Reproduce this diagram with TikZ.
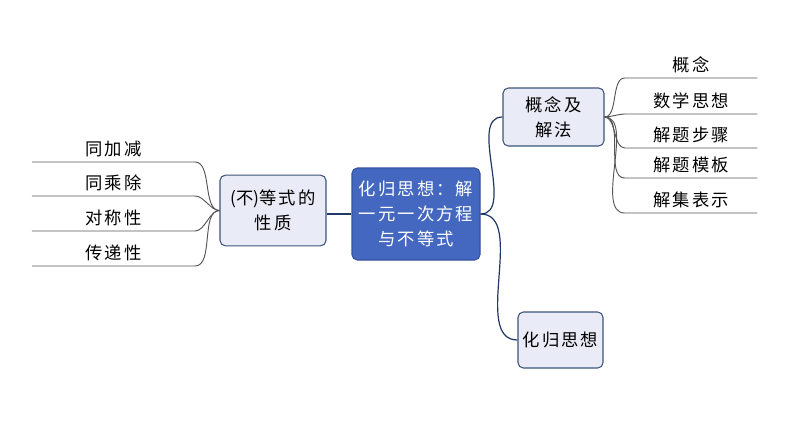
\documentclass[tikz,border=0pt]{standalone}
\usepackage{fontspec}
\usepackage{tikz}
\newfontfamily\cjk[LetterSpace=12]{Noto Sans CJK SC}
\newfontfamily\cjktight{Noto Sans CJK SC}
\definecolor{hubblue}{RGB}{68,104,192}
\definecolor{hubline}{RGB}{52,82,160}
\definecolor{boxfill}{RGB}{233,236,246}
\definecolor{boxline}{RGB}{62,84,122}
\definecolor{linkblue}{RGB}{31,56,100}
\definecolor{twig}{RGB}{85,85,85}

\tikzset{
  txt/.style={font=\cjk\fontsize{13}{19}\selectfont},
  box/.style={txt, draw=boxline, fill=boxfill, rounded corners=4pt, align=center, line width=0.8pt},
  hub/.style={box, draw=hubline, fill=hubblue, text=white},
  leaf/.style={txt, anchor=south, inner xsep=0pt, inner ysep=3.5pt},
  link/.style={draw=linkblue, line width=0.9pt},
  branch/.style={draw=twig, line width=0.7pt}
}

\begin{document}
\begin{tikzpicture}[x=0.75pt,y=-0.75pt]
    \useasboundingbox (0,0) rectangle (794,447);

    \node [hub, minimum width=96pt, minimum height=69pt] (main) at (416,214)
        {化归思想：解\\一元一次方程\\与不等式};
    \node [box, minimum width=79.5pt, minimum height=53pt] (prop) at (273,210.5)
        {{\cjktight(不)}等式的\\性质};
    \node [box, minimum width=75.75pt, minimum height=43.5pt] (concept) at (553.5,117)
        {概念及\\解法};
    \node [box, minimum width=63.75pt, minimum height=42pt] (idea) at (560.5,340)
        {化归思想};

    \draw [link] (main.west) -- (main.west -| prop.east);
    \draw [link] (main.east) to [out=0, in=180, looseness=0.9] (concept.west);
    \draw [link] (main.east) to [out=0, in=180, looseness=0.9] (idea.west);

    % left side
    \foreach \name/\y/\label in {l1/162/同加减, l2/196/同乘除, l3/231/对称性, l4/266/传递性} {
        \node [leaf, minimum width=122pt] (\name) at (113.5,\y) {\label};
        \draw [branch] (prop.west) to [out=180, in=0, looseness=0.8] (\name.south east) -- (\name.south west);
    }

    % right side
    \foreach \name/\y/\label in {r1/78/概念, r2/114/数学思想, r3/148/解题步骤, r4/178/解题模板, r5/213/解集表示} {
        \node [leaf, minimum width=99pt] (\name) at (691,\y) {\label};
        \draw [branch] (concept.east) to [out=0, in=180, looseness=0.8] (\name.south west) -- (\name.south east);
    }
\end{tikzpicture}
\end{document}
